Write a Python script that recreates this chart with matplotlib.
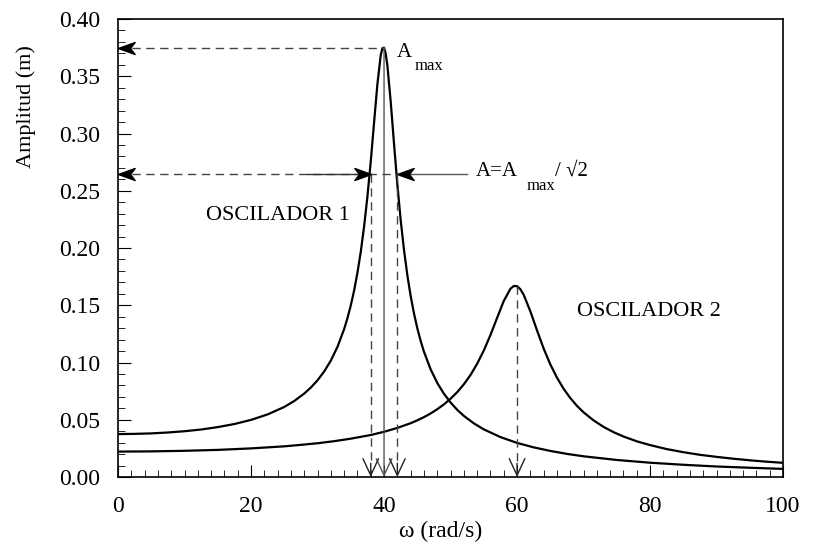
import matplotlib.pyplot as plt
from matplotlib.path import Path
from matplotlib.ticker import MultipleLocator

plt.rcParams['font.family'] = ['Liberation Serif', 'DejaVu Serif']

# curve: oscillator 1
omega_1 = [0, 2.5, 5, 7.5, 10, 12.5, 15, 17.5, 20, 22.5,
           25, 26.5, 28, 29, 30, 31, 32, 33, 34, 34.5,
           35, 35.5, 36, 36.5, 37, 37.5, 38, 38.5, 39, 39.5,
           39.75, 40, 40.25, 40.5, 41, 41.5, 42, 42.5, 43, 43.5,
           44, 44.5, 45, 45.5, 46, 47, 48, 49, 50, 51,
           52, 53.5, 55, 57.5, 60, 62.5, 65, 67.5, 70, 75,
           80, 85, 90, 95, 100]
amp_1 = [0.0375, 0.0377, 0.0381, 0.0389, 0.0400, 0.0415, 0.0436, 0.0463, 0.0499, 0.0547,
         0.0612, 0.0664, 0.0729, 0.0782, 0.0845, 0.0922, 0.1017, 0.1137, 0.1292, 0.1388,
         0.1499, 0.1629, 0.1784, 0.1967, 0.2187, 0.2449, 0.2755, 0.3095, 0.3431, 0.3683,
         0.3744, 0.3750, 0.3698, 0.3594, 0.3280, 0.2910, 0.2556, 0.2245, 0.1983, 0.1764,
         0.1582, 0.1429, 0.1300, 0.1190, 0.1095, 0.0941, 0.0822, 0.0728, 0.0651, 0.0587,
         0.0534, 0.0469, 0.0416, 0.0349, 0.0298, 0.0259, 0.0228, 0.0202, 0.0181, 0.0149,
         0.0125, 0.0107, 0.0092, 0.0081, 0.0071]

# oscillator 2
omega_2 = [0, 5, 10, 15, 20, 25, 27.5, 30, 32.5, 35,
           38, 40, 42, 44, 45, 46, 47, 48, 49, 50,
           51, 52, 53, 54, 55, 56, 57, 58, 59, 59.5,
           60, 60.5, 61, 62, 63, 64, 65, 66, 67, 68,
           69, 70, 71.5, 73, 74.5, 76, 78, 80, 82.5, 85,
           87.5, 90, 92.5, 95, 97.5, 100]
amp_2 = [0.0222, 0.0224, 0.0229, 0.0237, 0.0250, 0.0268, 0.0281, 0.0295, 0.0313, 0.0335,
         0.0367, 0.0395, 0.0429, 0.0470, 0.0495, 0.0523, 0.0555, 0.0592, 0.0634, 0.0684,
         0.0741, 0.0810, 0.0891, 0.0989, 0.1105, 0.1240, 0.1390, 0.1537, 0.1644, 0.1668,
         0.1667, 0.1640, 0.1591, 0.1447, 0.1281, 0.1122, 0.0984, 0.0868, 0.0771, 0.0690,
         0.0622, 0.0565, 0.0495, 0.0438, 0.0392, 0.0354, 0.0312, 0.0279, 0.0244, 0.0217,
         0.0194, 0.0176, 0.0160, 0.0146, 0.0134, 0.0124]

w_res1 = 40
a_max1 = 0.375
a_half = 0.265
w_half = [38, 42]
w_res2 = 60
a_max2 = 0.1667

fig = plt.figure(figsize=(8.14, 5.43), dpi=100)
ax = fig.add_axes([0.145, 0.1215, 0.817, 0.8435])

ax.plot(omega_1, amp_1, color='black', lw=1.6)
ax.plot(omega_2, amp_2, color='black', lw=1.6)

dash = dict(color='#444444', lw=1.0, ls=(0, (6, 4)))
head_v = dict(arrowstyle='->,head_length=0.6,head_width=0.28', color='#222222', lw=1.0,
              shrinkA=0, shrinkB=0, mutation_scale=20)

# barbed arrow heads, tip at the point
codes = [Path.MOVETO, Path.LINETO, Path.LINETO, Path.LINETO, Path.CLOSEPOLY]
head_left = Path([(0, 0), (1, 0.36), (0.72, 0), (1, -0.36), (0, 0)], codes)
head_right = Path([(0, 0), (-1, 0.36), (-0.72, 0), (-1, -0.36), (0, 0)], codes)

# horizontal guides to the y axis
ax.plot([0, w_res1], [a_max1, a_max1], **dash)
ax.plot([0, w_half[1]], [a_half, a_half], **dash)
ax.plot([0, 0], [a_max1, a_half], ls='none', marker=head_left, ms=24, color='black', clip_on=False)

# arrows marking the half-width
ax.plot([28.4, w_half[0]], [a_half, a_half], color='#333333', lw=1.0)
ax.plot([w_half[1], 52.5], [a_half, a_half], color='#555555', lw=1.0)
ax.plot([w_half[0]], [a_half], ls='none', marker=head_right, ms=24, color='black')
ax.plot([w_half[1]], [a_half], ls='none', marker=head_left, ms=24, color='black')

# vertical drops to the omega axis
ax.annotate('', xy=(w_res1, 0), xytext=(w_res1, a_max1),
            arrowprops=dict(head_v, color='#555555'))
for w, top in [(w_half[0], a_half), (w_half[1], a_half), (w_res2, a_max2)]:
    ax.plot([w, w], [top, 0.012], **dash)
    ax.annotate('', xy=(w, 0), xytext=(w, 0.012), arrowprops=head_v)

# labels
ax.text(41.9, 0.3668, 'A', fontsize=15)
ax.text(44.6, 0.3555, 'max', fontsize=12)
ax.text(53.8, 0.2629, 'A=A', fontsize=15)
ax.text(61.5, 0.2507, 'max', fontsize=12)
ax.text(65.7, 0.2629, '/ \u221a2', fontsize=15)
ax.text(24.1, 0.2285, 'OSCILADOR 1', fontsize=16, ha='center', va='center')
ax.text(79.8, 0.1445, 'OSCILADOR 2', fontsize=16, ha='center', va='center')

ax.set_xlim(0, 100)
ax.set_ylim(0, 0.40)
ax.xaxis.set_major_locator(MultipleLocator(20))
ax.xaxis.set_minor_locator(MultipleLocator(2))
ax.yaxis.set_major_locator(MultipleLocator(0.05))
ax.yaxis.set_minor_locator(MultipleLocator(0.01))
ax.yaxis.set_major_formatter(lambda v, p: f'{v:.2f}')
ax.tick_params(which='both', direction='in', top=False, right=False, labelsize=17)
ax.tick_params(axis='x', which='major', length=8.5, pad=14)
ax.tick_params(axis='y', which='major', length=9, pad=13)
ax.tick_params(which='minor', length=5)
for s in ax.spines.values():
    s.set_linewidth(1.2)

fig.text(441 / 814, 1 - 531 / 543, '\u03c9 (rad/s)', fontsize=17, ha='center', va='center')
fig.text(26 / 814, 1 - 107 / 543, 'Amplitud (m)', fontsize=16, rotation=90, ha='center', va='center')

fig.savefig('out.png', dpi=100)
